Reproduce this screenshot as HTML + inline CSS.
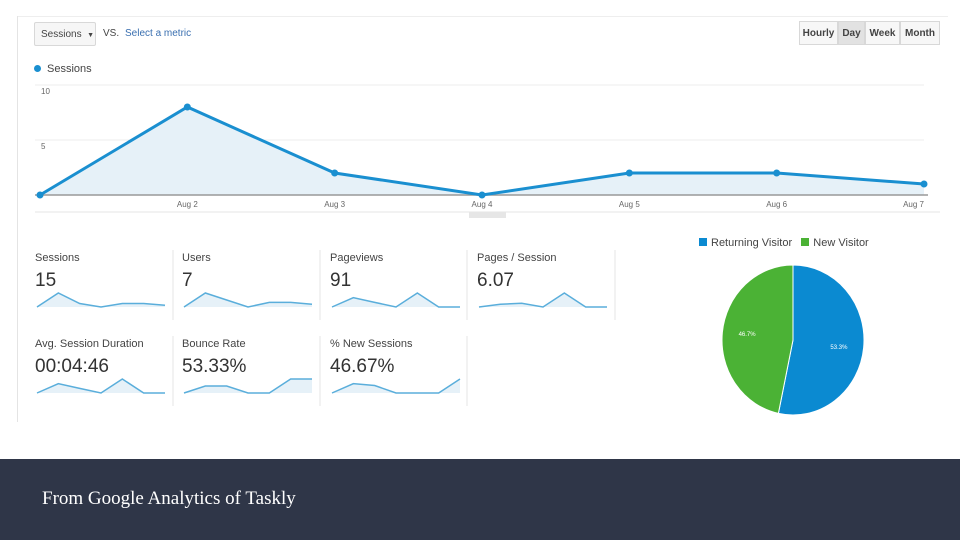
<!DOCTYPE html>
<html><head><meta charset="utf-8"><style>
body{margin:0;width:960px;height:540px;overflow:hidden;background:#fff;font-family:"Liberation Sans",sans-serif;position:relative}
.abs{position:absolute}
.btn{position:absolute;top:21px;height:24px;border:1px solid #d8d8d8;background:#f7f7f7;font-size:10px;font-weight:bold;color:#444;line-height:24px;text-align:center;box-sizing:border-box}
.tile-t{position:absolute;font-size:11px;color:#444}
.tile-v{position:absolute;font-size:19px;color:#333}
</style></head><body>
<div class="abs" style="left:18px;top:16px;width:930px;height:1px;background:#eee"></div>
<div class="abs" style="left:17px;top:16px;width:1px;height:406px;background:#e4e4e4"></div>
<div class="abs" style="left:34px;top:22px;width:62px;height:24px;border:1px solid #d8d8d8;border-radius:2px;background:#f6f6f6;font-size:10px;color:#444;line-height:24px;padding-left:6px;box-sizing:border-box">Sessions &nbsp;<span style="font-size:7px">▼</span></div>
<div class="abs" style="left:103px;top:28px;font-size:10px;color:#444">VS.</div>
<div class="abs" style="left:125px;top:28px;font-size:10px;color:#3a6fb0">Select a metric</div>
<div class="btn" style="left:799px;width:39px">Hourly</div>
<div class="btn" style="left:838px;width:27px;background:#e2e2e2">Day</div>
<div class="btn" style="left:865px;width:35px">Week</div>
<div class="btn" style="left:900px;width:40px">Month</div>
<div class="abs" style="left:34px;top:63px;font-size:11px;color:#444"><span style="display:inline-block;width:7px;height:7px;border-radius:50%;background:#1a8fd0;margin-right:6px"></span>Sessions</div>

<svg class="abs" style="left:0;top:0" width="960" height="540" id="svg"></svg>

<div class="tile-t" style="left:35px;top:252px">Sessions</div>
<div class="tile-v" style="left:35px;top:270px">15</div>
<div class="tile-t" style="left:182px;top:252px">Users</div>
<div class="tile-v" style="left:182px;top:270px">7</div>
<div class="tile-t" style="left:330px;top:252px">Pageviews</div>
<div class="tile-v" style="left:330px;top:270px">91</div>
<div class="tile-t" style="left:477px;top:252px">Pages / Session</div>
<div class="tile-v" style="left:477px;top:270px">6.07</div>
<div class="tile-t" style="left:35px;top:338px">Avg. Session Duration</div>
<div class="tile-v" style="left:35px;top:356px">00:04:46</div>
<div class="tile-t" style="left:182px;top:338px">Bounce Rate</div>
<div class="tile-v" style="left:182px;top:356px">53.33%</div>
<div class="tile-t" style="left:330px;top:338px">% New Sessions</div>
<div class="tile-v" style="left:330px;top:356px">46.67%</div>

<div class="abs" style="left:699px;top:237px;font-size:11px;color:#444"><span style="display:inline-block;width:8px;height:8px;background:#0b8ad1;margin-right:4px"></span>Returning Visitor &nbsp;&nbsp;<span style="display:inline-block;width:8px;height:8px;background:#4bb235;margin-right:4px"></span>New Visitor</div>

<div class="abs" style="left:0;top:459px;width:960px;height:81px;background:#2f3648"></div>
<div class="abs" style="left:42px;top:488px;font-family:'Liberation Serif',serif;font-size:19px;color:#fff">From Google Analytics of Taskly</div>

<script>
const categories=["Aug 1","Aug 2","Aug 3","Aug 4","Aug 5","Aug 6","Aug 7"];
const sessions=[0,8,2,0,2,2,1];
const yTicks=[5,10];
const sparkSessions=[0,8,2,0,2,2,1];
const sparkUsers=[0,3,1.5,0,1,1,0.6];
const sparkPageviews=[0,2,1,0,3,0,0];
const sparkPagesPerSession=[0,0.3,0.4,0,1.5,0,0];
const sparkDuration=[0,2,1,0,3,0,0];
const sparkBounce=[0,1,1,0,0,2,2];
const sparkNew=[0,1,0.8,0,0,0,1.5];
const pieLabels=["Returning Visitor","New Visitor"];
const pieValues=[53.3,46.7];

const NS="http://www.w3.org/2000/svg";
const svg=document.getElementById('svg');
function mk(t,a){const e=document.createElementNS(NS,t);for(const k in a)e.setAttribute(k,a[k]);svg.appendChild(e);return e;}
const x=i=>40+i*(884/(categories.length-1));
const y=v=>195-v*11;
// grid
yTicks.forEach(t=>{
 const g=mk('line',{x1:35,x2:924,y1:y(t),y2:y(t),stroke:'#eee'});
 
 
 const l=mk('text',{x:41,y:y(t)+9,'font-size':8,fill:'#666'});l.textContent=t;
 
 
});
const pts=sessions.map((v,i)=>x(i)+','+y(v)).join(' ');
const area=mk('polygon',{points:x(0)+','+y(0)+' '+pts+' '+x(sessions.length-1)+','+y(0),fill:'#e6f1f8'});


const base=mk('line',{x1:35,x2:928,y1:195,y2:195,stroke:'#999','stroke-width':1.5});


const ln=mk('polyline',{points:pts,fill:'none',stroke:'#1a8fd0','stroke-width':3});


sessions.forEach((v,i)=>{
 const c=mk('circle',{cx:x(i),cy:y(v),r:3.5,fill:'#1a8fd0'});
 
 
 if(i>0){const t=mk('text',{x:x(i),y:207,'font-size':8,fill:'#666','text-anchor':i==categories.length-1?'end':'middle'});t.textContent=categories[i];
 
 }
});
const sep=mk('line',{x1:35,x2:940,y1:212,y2:212,stroke:'#e4e4e4'});


const h=mk('rect',{x:469,y:212,width:37,height:6,fill:'#e6e6e6'});


// tile separators
[[173,250],[320,250],[467,250],[615,250],[173,336],[320,336],[467,336]].forEach(([sx,sy],i)=>{
 const l=mk('line',{x1:sx,x2:sx,y1:sy,y2:sy+70,stroke:'#e4e4e4'});
 
 
});
function spark(data,x0,yb,name){
 const max=Math.max(...data),w=128,hgt=14;
 const sx=i=>x0+i*w/(data.length-1),sy=v=>yb-v/max*hgt;
 const p=data.map((v,i)=>sx(i)+','+sy(v)).join(' ');
 const a=mk('polygon',{points:sx(0)+','+yb+' '+p+' '+sx(data.length-1)+','+yb,fill:'#e6f1f8'});
 
 
 const l=mk('polyline',{points:p,fill:'none',stroke:'#5aaedb','stroke-width':1.5});
 
 
}
spark(sparkSessions,37,307,'sessions');
spark(sparkUsers,184,307,'users');
spark(sparkPageviews,332,307,'pageviews');
spark(sparkPagesPerSession,479,307,'pages-session');
spark(sparkDuration,37,393,'avg-duration');
spark(sparkBounce,184,393,'bounce-rate');
spark(sparkNew,332,393,'new-sessions');
// pie
const cx=793,cy=340,rx=71,ry=75,colors=['#0b8ad1','#4bb235'];
const tot=pieValues.reduce((a,b)=>a+b,0);let ang=-Math.PI/2;
pieValues.forEach((v,i)=>{
 const a2=ang+v/tot*2*Math.PI;
 const p1=[cx+rx*Math.cos(ang),cy+ry*Math.sin(ang)],p2=[cx+rx*Math.cos(a2),cy+ry*Math.sin(a2)];
 const s=mk('path',{d:`M${cx},${cy}L${p1}A${rx},${ry} 0 ${a2-ang>Math.PI?1:0} 1 ${p2}Z`,fill:colors[i],stroke:'#fff','stroke-width':1});
 
 
 const m=(ang+a2)/2;
 const t=mk('text',{x:cx+rx*0.65*Math.cos(m),y:cy+ry*0.1*Math.sin(m)+ (i==0?8:-3),'font-size':6,fill:'#fff','text-anchor':'middle'});
 t.textContent=v.toFixed(1)+'%';
 
 
 ang=a2;
});
</script>
</body></html>
